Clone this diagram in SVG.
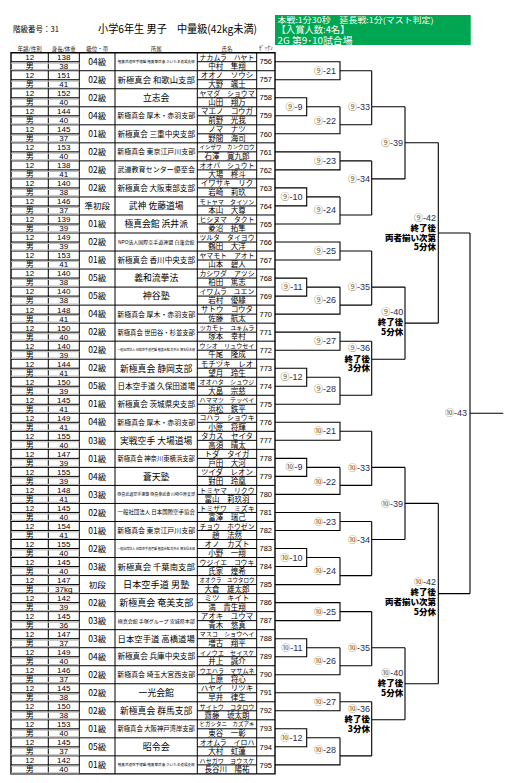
<svg xmlns="http://www.w3.org/2000/svg" width="516" height="783" viewBox="0 0 516 783">
<style>
text{font-family:"Liberation Sans","Noto Sans CJK JP",sans-serif;fill:#000}
.j{font-family:"Noto Sans CJK JP",sans-serif}
.a{font-size:8px;text-anchor:middle}
.g{font-size:8.5px;text-anchor:middle;font-family:"Noto Sans CJK JP",sans-serif}
.f{text-anchor:middle;font-family:"Noto Sans CJK JP",sans-serif}
.kn{font-size:7.5px;text-anchor:middle;font-family:"Noto Sans CJK JP",sans-serif}
.k7{font-size:6.9px}
.k8{font-size:6.1px}
.k9{font-size:5.5px}
.kj{font-size:7.5px;text-anchor:middle;font-family:"Noto Sans CJK JP",sans-serif}
.no{font-size:7.5px;text-anchor:middle}
.dv{stroke:#000;stroke-width:1;fill:none}
.gy{stroke:#bdbdbd;stroke-width:1.2;fill:none}
.grid{stroke:#000;stroke-width:1;fill:none}
.out{stroke:#000;stroke-width:1.4;fill:none}
.br{stroke:#000;stroke-width:1.1;fill:none}
.lb{font-size:9px;text-anchor:end;fill:#1f2d5a}
.lb tspan{fill:#7a5c1e}
.nt{font-size:8.5px;text-anchor:end;font-weight:900;font-family:"Noto Sans CJK JP",sans-serif}
.hd{font-size:5.5px;text-anchor:middle;font-family:"Noto Sans CJK JP",sans-serif;fill:#222}
.wt{fill:#fff;font-family:"Noto Sans CJK JP",sans-serif}
</style>

<g id="header">
<text class="j" x="13" y="32" font-size="7.5">階級番号：31</text>
<text class="j" x="98" y="33" font-size="11" textLength="159" lengthAdjust="spacingAndGlyphs">小学6年生 男子　中量級(42kg未満)</text>
<rect x="275" y="15" width="195.7" height="30" fill="#00a651"/>
<text class="wt" x="277.5" y="23.3" font-size="8" textLength="156" lengthAdjust="spacingAndGlyphs">本戦:1分30秒　延長戦:1分(マスト判定)</text>
<text class="wt" x="276.5" y="33.3" font-size="9.6" textLength="73" lengthAdjust="spacingAndGlyphs">【入賞人数:4名】</text>
<text class="wt" x="277.5" y="43.6" font-size="9.6" textLength="75" lengthAdjust="spacingAndGlyphs">2G 第9･10試合場</text>
<text class="hd" x="29.7" y="51">年齢/性別</text>
<text class="hd" x="63.8" y="51">身長/体重</text>
<text class="hd" x="97.2" y="51">級位・帯</text>
<text class="hd" x="156.2" y="51">所属</text>
<text class="hd" x="227" y="51">氏名</text>
<text class="hd" x="266" y="50" font-size="4">ｾﾞｯｹﾝ</text>
</g>

<g id="table-grid">
<path class="out" d="M11 52.7H275V773.9H11Z"/>
<path class="grid" d="M48.3 52.7V773.9M79.3 52.7V773.9M115 52.7V773.9M197.3 52.7V773.9M256.7 52.7V773.9"/>
<path class="grid" d="M11 70.73H275M11 88.76H275M11 106.79H275M11 124.82H275M11 142.85H275M11 160.88H275M11 178.91H275M11 196.94H275M11 214.97H275M11 233H275M11 251.03H275M11 269.06H275M11 287.09H275M11 305.12H275M11 323.15H275M11 341.18H275M11 359.21H275M11 377.24H275M11 395.27H275M11 413.3H275M11 431.33H275M11 449.36H275M11 467.39H275M11 485.42H275M11 503.45H275M11 521.48H275M11 539.51H275M11 557.54H275M11 575.57H275M11 593.6H275M11 611.63H275M11 629.66H275M11 647.69H275M11 665.72H275M11 683.75H275M11 701.78H275M11 719.81H275M11 737.84H275M11 755.87H275"/>
</g>

<g id="p756" transform="translate(0,52.7)"><path class="gy" d="M11 10.4H79.3M11 17H79.3"/><path class="dv" d="M11 9H79.3M197.3 9H256.7"/><text class="a" x="29.7" y="7.4">12</text><text class="a" x="63.8" y="7.4">138</text><text class="a" x="29.7" y="16.4">男</text><text class="a" x="63.8" y="16.4">38</text><text class="g" x="97.2" y="12.2">04級</text><text class="f" x="156.2" y="10.3" font-size="3.6">極真武道空手連盟 極真拳武會 さいたま道場支部</text><text class="kn k7" x="227" y="7.1">ナカムラ　ハヤト</text><text class="kj" x="227" y="16.3">中村　隼翔</text><text class="no" x="265.8" y="11.7">756</text></g>
<g id="p757" transform="translate(0,70.73)"><path class="gy" d="M11 10.4H79.3M11 17H79.3"/><path class="dv" d="M11 9H79.3M197.3 9H256.7"/><text class="a" x="29.7" y="7.4">12</text><text class="a" x="63.8" y="7.4">151</text><text class="a" x="29.7" y="16.4">男</text><text class="a" x="63.8" y="16.4">41</text><text class="g" x="97.2" y="12.2">02級</text><text class="f" x="156.2" y="12.1" font-size="8.4">新極真会 和歌山支部</text><text class="kn" x="227" y="7.3">オオノ　ソウシ</text><text class="kj" x="227" y="16.3">大野　颯士</text><text class="no" x="265.8" y="11.7">757</text></g>
<g id="p758" transform="translate(0,88.76)"><path class="gy" d="M11 10.4H79.3M11 17H79.3"/><path class="dv" d="M11 9H79.3M197.3 9H256.7"/><text class="a" x="29.7" y="7.4">12</text><text class="a" x="63.8" y="7.4">152</text><text class="a" x="29.7" y="16.4">男</text><text class="a" x="63.8" y="16.4">40</text><text class="g" x="97.2" y="12.2">02級</text><text class="f" x="156.2" y="12.3" font-size="8.8">立志会</text><text class="kn k7" x="227" y="7.1">ヤマダ　ショウマ</text><text class="kj" x="227" y="16.3">山田　翔万</text><text class="no" x="265.8" y="11.7">758</text></g>
<g id="p759" transform="translate(0,106.79)"><path class="gy" d="M11 10.4H79.3M11 17H79.3"/><path class="dv" d="M11 9H79.3M197.3 9H256.7"/><text class="a" x="29.7" y="7.4">12</text><text class="a" x="63.8" y="7.4">144</text><text class="a" x="29.7" y="16.4">男</text><text class="a" x="63.8" y="16.4">40</text><text class="g" x="97.2" y="12.2">04級</text><text class="f" x="156.2" y="11.6" font-size="6.95">新極真会 厚木・赤羽支部</text><text class="kn" x="227" y="7.3">マエノ　コウガ</text><text class="kj" x="227" y="16.3">前野　光我</text><text class="no" x="265.8" y="11.7">759</text></g>
<g id="p760" transform="translate(0,124.82)"><path class="gy" d="M11 10.4H79.3M11 17H79.3"/><path class="dv" d="M11 9H79.3M197.3 9H256.7"/><text class="a" x="29.7" y="7.4">12</text><text class="a" x="63.8" y="7.4">145</text><text class="a" x="29.7" y="16.4">男</text><text class="a" x="63.8" y="16.4">37</text><text class="g" x="97.2" y="12.2">01級</text><text class="f" x="156.2" y="11.8" font-size="7.6">新極真会 三重中央支部</text><text class="kn" x="227" y="7.3">ノマ　ナツ</text><text class="kj" x="227" y="16.3">野間　海司</text><text class="no" x="265.8" y="11.7">760</text></g>
<g id="p761" transform="translate(0,142.85)"><path class="gy" d="M11 10.4H79.3M11 17H79.3"/><path class="dv" d="M11 9H79.3M197.3 9H256.7"/><text class="a" x="29.7" y="7.4">12</text><text class="a" x="63.8" y="7.4">153</text><text class="a" x="29.7" y="16.4">男</text><text class="a" x="63.8" y="16.4">40</text><text class="g" x="97.2" y="12.2">02級</text><text class="f" x="156.2" y="11.6" font-size="6.95">新極真会 東京江戸川支部</text><text class="kn k9" x="227" y="6.5">イシザワ　カンクロウ</text><text class="kj" x="227" y="16.3">石澤　寛九郎</text><text class="no" x="265.8" y="11.7">761</text></g>
<g id="p762" transform="translate(0,160.88)"><path class="gy" d="M11 10.4H79.3M11 17H79.3"/><path class="dv" d="M11 9H79.3M197.3 9H256.7"/><text class="a" x="29.7" y="7.4">12</text><text class="a" x="63.8" y="7.4">138</text><text class="a" x="29.7" y="16.4">男</text><text class="a" x="63.8" y="16.4">41</text><text class="g" x="97.2" y="12.2">02級</text><text class="f" x="156.2" y="11.6" font-size="7.05">武道教育センター優至会</text><text class="kn k7" x="227" y="7.1">オオバ　シュウト</text><text class="kj" x="227" y="16.3">大場　柊斗</text><text class="no" x="265.8" y="11.7">762</text></g>
<g id="p763" transform="translate(0,178.91)"><path class="gy" d="M11 10.4H79.3M11 17H79.3"/><path class="dv" d="M11 9H79.3M197.3 9H256.7"/><text class="a" x="29.7" y="7.4">12</text><text class="a" x="63.8" y="7.4">140</text><text class="a" x="29.7" y="16.4">男</text><text class="a" x="63.8" y="16.4">38</text><text class="g" x="97.2" y="12.2">02級</text><text class="f" x="156.2" y="11.8" font-size="7.6">新極真会 大阪東部支部</text><text class="kn" x="227" y="7.3">イワサキ　リク</text><text class="kj" x="227" y="16.3">岩崎　莉玖</text><text class="no" x="265.8" y="11.7">763</text></g>
<g id="p764" transform="translate(0,196.94)"><path class="gy" d="M11 10.4H79.3M11 17H79.3"/><path class="dv" d="M11 9H79.3M197.3 9H256.7"/><text class="a" x="29.7" y="7.4">12</text><text class="a" x="63.8" y="7.4">146</text><text class="a" x="29.7" y="16.4">男</text><text class="a" x="63.8" y="16.4">37</text><text class="g" x="97.2" y="12.2">準初段</text><text class="f" x="156.2" y="12.3" font-size="8.8">武神 佐藤道場</text><text class="kn k8" x="227" y="6.8">モトヤマ　タイソン</text><text class="kj" x="227" y="16.3">本山　大尊</text><text class="no" x="265.8" y="11.7">764</text></g>
<g id="p765" transform="translate(0,214.97)"><path class="gy" d="M11 10.4H79.3M11 17H79.3"/><path class="dv" d="M11 9H79.3M197.3 9H256.7"/><text class="a" x="29.7" y="7.4">12</text><text class="a" x="63.8" y="7.4">139</text><text class="a" x="29.7" y="16.4">男</text><text class="a" x="63.8" y="16.4">39</text><text class="g" x="97.2" y="12.2">01級</text><text class="f" x="156.2" y="12.3" font-size="8.8">極真会館 浜井派</text><text class="kn k7" x="227" y="7.1">ヒシヌマ　タクト</text><text class="kj" x="227" y="16.3">菱沼　拓隼</text><text class="no" x="265.8" y="11.7">765</text></g>
<g id="p766" transform="translate(0,233)"><path class="gy" d="M11 10.4H79.3M11 17H79.3"/><path class="dv" d="M11 9H79.3M197.3 9H256.7"/><text class="a" x="29.7" y="7.4">12</text><text class="a" x="63.8" y="7.4">149</text><text class="a" x="29.7" y="16.4">男</text><text class="a" x="63.8" y="16.4">39</text><text class="g" x="97.2" y="12.2">02級</text><text class="f" x="156.2" y="10.9" font-size="5">NPO法人国際空手道連盟 白蓮会館</text><text class="kn k7" x="227" y="7.1">ツルタ　タイヨウ</text><text class="kj" x="227" y="16.3">鶴田　大洋</text><text class="no" x="265.8" y="11.7">766</text></g>
<g id="p767" transform="translate(0,251.03)"><path class="gy" d="M11 10.4H79.3M11 17H79.3"/><path class="dv" d="M11 9H79.3M197.3 9H256.7"/><text class="a" x="29.7" y="7.4">12</text><text class="a" x="63.8" y="7.4">153</text><text class="a" x="29.7" y="16.4">男</text><text class="a" x="63.8" y="16.4">41</text><text class="g" x="97.2" y="12.2">01級</text><text class="f" x="156.2" y="11.8" font-size="7.6">新極真会 香川中央支部</text><text class="kn k7" x="227" y="7.1">ヤマモト　アオト</text><text class="kj" x="227" y="16.3">山本　碧人</text><text class="no" x="265.8" y="11.7">767</text></g>
<g id="p768" transform="translate(0,269.06)"><path class="gy" d="M11 10.4H79.3M11 17H79.3"/><path class="dv" d="M11 9H79.3M197.3 9H256.7"/><text class="a" x="29.7" y="7.4">12</text><text class="a" x="63.8" y="7.4">140</text><text class="a" x="29.7" y="16.4">男</text><text class="a" x="63.8" y="16.4">38</text><text class="g" x="97.2" y="12.2">05級</text><text class="f" x="156.2" y="12.3" font-size="8.8">義和流拳法</text><text class="kn k7" x="227" y="7.1">カシワダ　アツシ</text><text class="kj" x="227" y="16.3">柏田　篤志</text><text class="no" x="265.8" y="11.7">768</text></g>
<g id="p769" transform="translate(0,287.09)"><path class="gy" d="M11 10.4H79.3M11 17H79.3"/><path class="dv" d="M11 9H79.3M197.3 9H256.7"/><text class="a" x="29.7" y="7.4">12</text><text class="a" x="63.8" y="7.4">140</text><text class="a" x="29.7" y="16.4">男</text><text class="a" x="63.8" y="16.4">38</text><text class="g" x="97.2" y="12.2">05級</text><text class="f" x="156.2" y="12.3" font-size="9">神谷塾</text><text class="kn k7" x="227" y="7.1">イワムラ　ユエン</text><text class="kj" x="227" y="16.3">岩村　優縁</text><text class="no" x="265.8" y="11.7">769</text></g>
<g id="p770" transform="translate(0,305.12)"><path class="gy" d="M11 10.4H79.3M11 17H79.3"/><path class="dv" d="M11 9H79.3M197.3 9H256.7"/><text class="a" x="29.7" y="7.4">12</text><text class="a" x="63.8" y="7.4">148</text><text class="a" x="29.7" y="16.4">男</text><text class="a" x="63.8" y="16.4">41</text><text class="g" x="97.2" y="12.2">04級</text><text class="f" x="156.2" y="11.6" font-size="6.95">新極真会 厚木・赤羽支部</text><text class="kn" x="227" y="7.3">サトウ　コウタ</text><text class="kj" x="227" y="16.3">佐藤　航太</text><text class="no" x="265.8" y="11.7">770</text></g>
<g id="p771" transform="translate(0,323.15)"><path class="gy" d="M11 10.4H79.3M11 17H79.3"/><path class="dv" d="M11 9H79.3M197.3 9H256.7"/><text class="a" x="29.7" y="7.4">12</text><text class="a" x="63.8" y="7.4">150</text><text class="a" x="29.7" y="16.4">男</text><text class="a" x="63.8" y="16.4">40</text><text class="g" x="97.2" y="12.2">02級</text><text class="f" x="156.2" y="11.4" font-size="6.35">新極真会 世田谷・杉並支部</text><text class="kn k8" x="227" y="6.8">ツカモト　ユキムラ</text><text class="kj" x="227" y="16.3">塚本　幸村</text><text class="no" x="265.8" y="11.7">771</text></g>
<g id="p772" transform="translate(0,341.18)"><path class="gy" d="M11 10.4H79.3M11 17H79.3"/><path class="dv" d="M11 9H79.3M197.3 9H256.7"/><text class="a" x="29.7" y="7.4">12</text><text class="a" x="63.8" y="7.4">140</text><text class="a" x="29.7" y="16.4">男</text><text class="a" x="63.8" y="16.4">39</text><text class="g" x="97.2" y="12.2">02級</text><text class="f" x="156.2" y="10.1" font-size="3">一般社団法人 国際空手道連盟 極真会館 浜井派 埼玉県本部</text><text class="kn k8" x="227" y="6.8">ウシオ　リュウセイ</text><text class="kj" x="227" y="16.3">牛尾　隆成</text><text class="no" x="265.8" y="11.7">772</text></g>
<g id="p773" transform="translate(0,359.21)"><path class="gy" d="M11 10.4H79.3M11 17H79.3"/><path class="dv" d="M11 9H79.3M197.3 9H256.7"/><text class="a" x="29.7" y="7.4">12</text><text class="a" x="63.8" y="7.4">144</text><text class="a" x="29.7" y="16.4">男</text><text class="a" x="63.8" y="16.4">41</text><text class="g" x="97.2" y="12.2">02級</text><text class="f" x="156.2" y="12.3" font-size="8.8">新極真会 静岡支部</text><text class="kn" x="227" y="7.3">モチヅキ　レオ</text><text class="kj" x="227" y="16.3">望月　玲生</text><text class="no" x="265.8" y="11.7">773</text></g>
<g id="p774" transform="translate(0,377.24)"><path class="gy" d="M11 10.4H79.3M11 17H79.3"/><path class="dv" d="M11 9H79.3M197.3 9H256.7"/><text class="a" x="29.7" y="7.4">12</text><text class="a" x="63.8" y="7.4">150</text><text class="a" x="29.7" y="16.4">男</text><text class="a" x="63.8" y="16.4">39</text><text class="g" x="97.2" y="12.2">05級</text><text class="f" x="156.2" y="11.8" font-size="7.6">日本空手道 久保田道場</text><text class="kn k8" x="227" y="6.8">オオハタ　シュウジ</text><text class="kj" x="227" y="16.3">大畠　宗慈</text><text class="no" x="265.8" y="11.7">774</text></g>
<g id="p775" transform="translate(0,395.27)"><path class="gy" d="M11 10.4H79.3M11 17H79.3"/><path class="dv" d="M11 9H79.3M197.3 9H256.7"/><text class="a" x="29.7" y="7.4">12</text><text class="a" x="63.8" y="7.4">145</text><text class="a" x="29.7" y="16.4">男</text><text class="a" x="63.8" y="16.4">41</text><text class="g" x="97.2" y="12.2">01級</text><text class="f" x="156.2" y="11.8" font-size="7.6">新極真会 茨城県央支部</text><text class="kn k8" x="227" y="6.8">ハママツ　テッペイ</text><text class="kj" x="227" y="16.3">浜松　鉄平</text><text class="no" x="265.8" y="11.7">775</text></g>
<g id="p776" transform="translate(0,413.3)"><path class="gy" d="M11 10.4H79.3M11 17H79.3"/><path class="dv" d="M11 9H79.3M197.3 9H256.7"/><text class="a" x="29.7" y="7.4">12</text><text class="a" x="63.8" y="7.4">149</text><text class="a" x="29.7" y="16.4">男</text><text class="a" x="63.8" y="16.4">41</text><text class="g" x="97.2" y="12.2">04級</text><text class="f" x="156.2" y="11.6" font-size="6.95">新極真会 厚木・赤羽支部</text><text class="kn k7" x="227" y="7.1">コハラ　ショウキ</text><text class="kj" x="227" y="16.3">小原　将輝</text><text class="no" x="265.8" y="11.7">776</text></g>
<g id="p777" transform="translate(0,431.33)"><path class="gy" d="M11 10.4H79.3M11 17H79.3"/><path class="dv" d="M11 9H79.3M197.3 9H256.7"/><text class="a" x="29.7" y="7.4">12</text><text class="a" x="63.8" y="7.4">155</text><text class="a" x="29.7" y="16.4">男</text><text class="a" x="63.8" y="16.4">40</text><text class="g" x="97.2" y="12.2">03級</text><text class="f" x="156.2" y="12.3" font-size="8.8">実戦空手 大場道場</text><text class="kn" x="227" y="7.3">タカス　セイタ</text><text class="kj" x="227" y="16.3">高須　晴太</text><text class="no" x="265.8" y="11.7">777</text></g>
<g id="p778" transform="translate(0,449.36)"><path class="gy" d="M11 10.4H79.3M11 17H79.3"/><path class="dv" d="M11 9H79.3M197.3 9H256.7"/><text class="a" x="29.7" y="7.4">12</text><text class="a" x="63.8" y="7.4">147</text><text class="a" x="29.7" y="16.4">男</text><text class="a" x="63.8" y="16.4">39</text><text class="g" x="97.2" y="12.2">01級</text><text class="f" x="156.2" y="11.4" font-size="6.35">新極真会 神奈川東横浜支部</text><text class="kn" x="227" y="7.3">トダ　タイガ</text><text class="kj" x="227" y="16.3">戸田　大河</text><text class="no" x="265.8" y="11.7">778</text></g>
<g id="p779" transform="translate(0,467.39)"><path class="gy" d="M11 10.4H79.3M11 17H79.3"/><path class="dv" d="M11 9H79.3M197.3 9H256.7"/><text class="a" x="29.7" y="7.4">12</text><text class="a" x="63.8" y="7.4">155</text><text class="a" x="29.7" y="16.4">男</text><text class="a" x="63.8" y="16.4">39</text><text class="g" x="97.2" y="12.2">04級</text><text class="f" x="156.2" y="12.3" font-size="8.8">蒼天塾</text><text class="kn" x="227" y="7.3">ツイダ　レオン</text><text class="kj" x="227" y="16.3">對田　玲凰</text><text class="no" x="265.8" y="11.7">779</text></g>
<g id="p780" transform="translate(0,485.42)"><path class="gy" d="M11 10.4H79.3M11 17H79.3"/><path class="dv" d="M11 9H79.3M197.3 9H256.7"/><text class="a" x="29.7" y="7.4">12</text><text class="a" x="63.8" y="7.4">148</text><text class="a" x="29.7" y="16.4">男</text><text class="a" x="63.8" y="16.4">41</text><text class="g" x="97.2" y="12.2">03級</text><text class="f" x="156.2" y="10.5" font-size="4">極真武道空手連盟 極真拳武會 川崎中原支部</text><text class="kn k7" x="227" y="7.1">トミヤマ　リクウ</text><text class="kj" x="227" y="16.3">冨山　莉玖羽</text><text class="no" x="265.8" y="11.7">780</text></g>
<g id="p781" transform="translate(0,503.45)"><path class="gy" d="M11 10.4H79.3M11 17H79.3"/><path class="dv" d="M11 9H79.3M197.3 9H256.7"/><text class="a" x="29.7" y="7.4">12</text><text class="a" x="63.8" y="7.4">145</text><text class="a" x="29.7" y="16.4">男</text><text class="a" x="63.8" y="16.4">40</text><text class="g" x="97.2" y="12.2">02級</text><text class="f" x="156.2" y="11" font-size="5.45">一般社団法人 日本国際空手協会</text><text class="kn k7" x="227" y="7.1">トミザワ　ミズキ</text><text class="kj" x="227" y="16.3">富澤　瑞己</text><text class="no" x="265.8" y="11.7">781</text></g>
<g id="p782" transform="translate(0,521.48)"><path class="gy" d="M11 10.4H79.3M11 17H79.3"/><path class="dv" d="M11 9H79.3M197.3 9H256.7"/><text class="a" x="29.7" y="7.4">12</text><text class="a" x="63.8" y="7.4">154</text><text class="a" x="29.7" y="16.4">男</text><text class="a" x="63.8" y="16.4">41</text><text class="g" x="97.2" y="12.2">01級</text><text class="f" x="156.2" y="11.6" font-size="6.95">新極真会 東京江戸川支部</text><text class="kn k7" x="227" y="7.1">チョウ　ホウゼン</text><text class="kj" x="227" y="16.3">趙　法然</text><text class="no" x="265.8" y="11.7">782</text></g>
<g id="p783" transform="translate(0,539.51)"><path class="gy" d="M11 10.4H79.3M11 17H79.3"/><path class="dv" d="M11 9H79.3M197.3 9H256.7"/><text class="a" x="29.7" y="7.4">12</text><text class="a" x="63.8" y="7.4">155</text><text class="a" x="29.7" y="16.4">男</text><text class="a" x="63.8" y="16.4">40</text><text class="g" x="97.2" y="12.2">02級</text><text class="f" x="156.2" y="10.1" font-size="3">一般社団法人 国際空手道連盟 極真会館 浜井派 埼玉県本部</text><text class="kn" x="227" y="7.3">オノ　カズト</text><text class="kj" x="227" y="16.3">小野　一翔</text><text class="no" x="265.8" y="11.7">783</text></g>
<g id="p784" transform="translate(0,557.54)"><path class="gy" d="M11 10.4H79.3M11 17H79.3"/><path class="dv" d="M11 9H79.3M197.3 9H256.7"/><text class="a" x="29.7" y="7.4">12</text><text class="a" x="63.8" y="7.4">145</text><text class="a" x="29.7" y="16.4">男</text><text class="a" x="63.8" y="16.4">40</text><text class="g" x="97.2" y="12.2">03級</text><text class="f" x="156.2" y="12.1" font-size="8.4">新極真会 千葉南支部</text><text class="kn k7" x="227" y="7.1">ウジイエ　コウキ</text><text class="kj" x="227" y="16.3">氏家　煌希</text><text class="no" x="265.8" y="11.7">784</text></g>
<g id="p785" transform="translate(0,575.57)"><path class="gy" d="M11 10.4H79.3M11 17H79.3"/><path class="dv" d="M11 9H79.3M197.3 9H256.7"/><text class="a" x="29.7" y="7.4">12</text><text class="a" x="63.8" y="7.4">147</text><text class="a" x="29.7" y="16.4">男</text><text class="a" x="63.8" y="16.4" font-size="7">37kg</text><text class="g" x="97.2" y="12.2">初段</text><text class="f" x="156.2" y="12.4" font-size="9.2">日本空手道 男塾</text><text class="kn k9" x="227" y="6.5">オオクラ　ユウタロウ</text><text class="kj" x="227" y="16.3">大倉　雄太郎</text><text class="no" x="265.8" y="11.7">785</text></g>
<g id="p786" transform="translate(0,593.6)"><path class="gy" d="M11 10.4H79.3M11 17H79.3"/><path class="dv" d="M11 9H79.3M197.3 9H256.7"/><text class="a" x="29.7" y="7.4">12</text><text class="a" x="63.8" y="7.4">142</text><text class="a" x="29.7" y="16.4">男</text><text class="a" x="63.8" y="16.4">39</text><text class="g" x="97.2" y="12.2">02級</text><text class="f" x="156.2" y="12.3" font-size="9">新極真会 奄美支部</text><text class="kn" x="227" y="7.3">ミツ　キイト</text><text class="kj" x="227" y="16.3">満　貴生翔</text><text class="no" x="265.8" y="11.7">786</text></g>
<g id="p787" transform="translate(0,611.63)"><path class="gy" d="M11 10.4H79.3M11 17H79.3"/><path class="dv" d="M11 9H79.3M197.3 9H256.7"/><text class="a" x="29.7" y="7.4">12</text><text class="a" x="63.8" y="7.4">145</text><text class="a" x="29.7" y="16.4">男</text><text class="a" x="63.8" y="16.4">36</text><text class="g" x="97.2" y="12.2">03級</text><text class="f" x="156.2" y="10.9" font-size="5">極真会館 手塚グループ 宮城県本部</text><text class="kn" x="227" y="7.3">アオキ　ユウマ</text><text class="kj" x="227" y="16.3">青木　悠真</text><text class="no" x="265.8" y="11.7">787</text></g>
<g id="p788" transform="translate(0,629.66)"><path class="gy" d="M11 10.4H79.3M11 17H79.3"/><path class="dv" d="M11 9H79.3M197.3 9H256.7"/><text class="a" x="29.7" y="7.4">12</text><text class="a" x="63.8" y="7.4">147</text><text class="a" x="29.7" y="16.4">男</text><text class="a" x="63.8" y="16.4">37</text><text class="g" x="97.2" y="12.2">03級</text><text class="f" x="156.2" y="12.1" font-size="8.4">日本空手道 高橋道場</text><text class="kn k8" x="227" y="6.8">マスコ　ショウヘイ</text><text class="kj" x="227" y="16.3">増古　翔平</text><text class="no" x="265.8" y="11.7">788</text></g>
<g id="p789" transform="translate(0,647.69)"><path class="gy" d="M11 10.4H79.3M11 17H79.3"/><path class="dv" d="M11 9H79.3M197.3 9H256.7"/><text class="a" x="29.7" y="7.4">12</text><text class="a" x="63.8" y="7.4">149</text><text class="a" x="29.7" y="16.4">男</text><text class="a" x="63.8" y="16.4">40</text><text class="g" x="97.2" y="12.2">04級</text><text class="f" x="156.2" y="11.8" font-size="7.6">新極真会 兵庫中央支部</text><text class="kn k8" x="227" y="6.8">イノウエ　セイスケ</text><text class="kj" x="227" y="16.3">井上　誠介</text><text class="no" x="265.8" y="11.7">789</text></g>
<g id="p790" transform="translate(0,665.72)"><path class="gy" d="M11 10.4H79.3M11 17H79.3"/><path class="dv" d="M11 9H79.3M197.3 9H256.7"/><text class="a" x="29.7" y="7.4">12</text><text class="a" x="63.8" y="7.4">146</text><text class="a" x="29.7" y="16.4">男</text><text class="a" x="63.8" y="16.4">37</text><text class="g" x="97.2" y="12.2">02級</text><text class="f" x="156.2" y="11.6" font-size="6.95">新極真会 埼玉大宮西支部</text><text class="kn k8" x="227" y="6.8">ウエハラ　マサムネ</text><text class="kj" x="227" y="16.3">上原　将心</text><text class="no" x="265.8" y="11.7">790</text></g>
<g id="p791" transform="translate(0,683.75)"><path class="gy" d="M11 10.4H79.3M11 17H79.3"/><path class="dv" d="M11 9H79.3M197.3 9H256.7"/><text class="a" x="29.7" y="7.4">12</text><text class="a" x="63.8" y="7.4">145</text><text class="a" x="29.7" y="16.4">男</text><text class="a" x="63.8" y="16.4">38</text><text class="g" x="97.2" y="12.2">02級</text><text class="f" x="156.2" y="12.3" font-size="8.8">一光会館</text><text class="kn" x="227" y="7.3">ハヤイ　リツキ</text><text class="kj" x="227" y="16.3">早井　律生</text><text class="no" x="265.8" y="11.7">791</text></g>
<g id="p792" transform="translate(0,701.78)"><path class="gy" d="M11 10.4H79.3M11 17H79.3"/><path class="dv" d="M11 9H79.3M197.3 9H256.7"/><text class="a" x="29.7" y="7.4">12</text><text class="a" x="63.8" y="7.4">150</text><text class="a" x="29.7" y="16.4">男</text><text class="a" x="63.8" y="16.4">38</text><text class="g" x="97.2" y="12.2">02級</text><text class="f" x="156.2" y="12.3" font-size="8.8">新極真会 群馬支部</text><text class="kn k8" x="227" y="6.8">サイトウ　コタロウ</text><text class="kj" x="227" y="16.3">齋藤　琥太朗</text><text class="no" x="265.8" y="11.7">792</text></g>
<g id="p793" transform="translate(0,719.81)"><path class="gy" d="M11 10.4H79.3M11 17H79.3"/><path class="dv" d="M11 9H79.3M197.3 9H256.7"/><text class="a" x="29.7" y="7.4">12</text><text class="a" x="63.8" y="7.4">153</text><text class="a" x="29.7" y="16.4">男</text><text class="a" x="63.8" y="16.4">40</text><text class="g" x="97.2" y="12.2">01級</text><text class="f" x="156.2" y="11.4" font-size="6.35">新極真会 大阪神戸湾岸支部</text><text class="kn k9" x="227" y="6.5">ヒガシタニ　カズアキ</text><text class="kj" x="227" y="16.3">東谷　一彰</text><text class="no" x="265.8" y="11.7">793</text></g>
<g id="p794" transform="translate(0,737.84)"><path class="gy" d="M11 10.4H79.3M11 17H79.3"/><path class="dv" d="M11 9H79.3M197.3 9H256.7"/><text class="a" x="29.7" y="7.4">12</text><text class="a" x="63.8" y="7.4">145</text><text class="a" x="29.7" y="16.4">男</text><text class="a" x="63.8" y="16.4">37</text><text class="g" x="97.2" y="12.2">05級</text><text class="f" x="156.2" y="12.3" font-size="9">昭令会</text><text class="kn k7" x="227" y="7.1">オオムラ　イロハ</text><text class="kj" x="227" y="16.3">大村　虹蓮</text><text class="no" x="265.8" y="11.7">794</text></g>
<g id="p795" transform="translate(0,755.87)"><path class="gy" d="M11 10.4H79.3M11 17H79.3"/><path class="dv" d="M11 9H79.3M197.3 9H256.7"/><text class="a" x="29.7" y="7.4">12</text><text class="a" x="63.8" y="7.4">142</text><text class="a" x="29.7" y="16.4">男</text><text class="a" x="63.8" y="16.4">40</text><text class="g" x="97.2" y="12.2">01級</text><text class="f" x="156.2" y="10.3" font-size="3.6">極真武道空手連盟 極真拳武會 さいたま道場支部</text><text class="kn k8" x="227" y="6.8">ハセガワ　ヨウスケ</text><text class="kj" x="227" y="16.3">長谷川　陽祐</text><text class="no" x="265.8" y="11.7">795</text></g>

<g id="connectors" class="br">
<path d="M275 61.7H340V79.7H275M340 70.7H371.7"/>
<path d="M275 97.8H306.7V115.8H275M306.7 106.8H340"/>
<path d="M275 133.8H340V106.8M340 124.8H371.7"/>
<path d="M371.7 70.7V124.8M371.7 106.8H405"/>
<path d="M275 151.9H340V169.9H275M340 160.9H371.7"/>
<path d="M275 187.9H306.7V205.9H275M306.7 196.9H340"/>
<path d="M275 224H340V196.9M340 215H371.7"/>
<path d="M371.7 160.9V215M371.7 178.9H405"/>
<path d="M405 106.8V178.9M405 142.8H438.3"/>
<path d="M275 242H340V260H275M340 251H371.7"/>
<path d="M275 278.1H306.7V296.1H275M306.7 287.1H340"/>
<path d="M275 314.1H340V287.1M340 305.1H371.7"/>
<path d="M371.7 251V305.1M371.7 287.1H405"/>
<path d="M275 332.1H340V350.2H275M340 341.2H371.7"/>
<path d="M275 368.2H306.7V386.2H275M306.7 377.2H340"/>
<path d="M275 404.3H340V377.2M340 395.3H371.7"/>
<path d="M371.7 341.2V395.3M371.7 359.2H405"/>
<path d="M405 287.1V359.2M405 323.1H438.3"/>
<path d="M438.3 142.8V323.1M438.3 233H470"/>
<path d="M275 422.3H340V440.3H275M340 431.3H371.7"/>
<path d="M275 458.4H306.7V476.4H275M306.7 467.4H340"/>
<path d="M275 494.4H340V467.4M340 485.4H371.7"/>
<path d="M371.7 431.3V485.4M371.7 467.4H405"/>
<path d="M275 512.5H340V530.5H275M340 521.5H371.7"/>
<path d="M275 548.5H306.7V566.5H275M306.7 557.5H340"/>
<path d="M275 584.6H340V557.5M340 575.6H371.7"/>
<path d="M371.7 521.5V575.6M371.7 539.5H405"/>
<path d="M405 467.4V539.5M405 503.4H438.3"/>
<path d="M275 602.6H340V620.6H275M340 611.6H371.7"/>
<path d="M275 638.7H306.7V656.7H275M306.7 647.7H340"/>
<path d="M275 674.7H340V647.7M340 665.7H371.7"/>
<path d="M371.7 611.6V665.7M371.7 647.7H405"/>
<path d="M275 692.7H340V710.8H275M340 701.8H371.7"/>
<path d="M275 728.8H306.7V746.8H275M306.7 737.8H340"/>
<path d="M275 764.9H340V737.8M340 755.9H371.7"/>
<path d="M371.7 701.8V755.9M371.7 719.8H405"/>
<path d="M405 647.7V719.8M405 683.7H438.3"/>
<path d="M438.3 503.4V683.7M438.3 593.6H470"/>
<path d="M470 233V593.6M470 413.3H503.3"/>
</g>

<g id="labels">
<text class="lb" x="336" y="73.9"><tspan>⑨</tspan>-21</text>
<text class="lb" x="302.5" y="110"><tspan>⑨</tspan>-9</text>
<text class="lb" x="336" y="124"><tspan>⑨</tspan>-22</text>
<text class="lb" x="370" y="110"><tspan>⑨</tspan>-33</text>
<text class="lb" x="336" y="164"><tspan>⑨</tspan>-23</text>
<text class="lb" x="302.5" y="200"><tspan>⑨</tspan>-10</text>
<text class="lb" x="336" y="213"><tspan>⑨</tspan>-24</text>
<text class="lb" x="370" y="182"><tspan>⑨</tspan>-34</text>
<text class="lb" x="403" y="146"><tspan>⑨</tspan>-39</text>
<text class="lb" x="336" y="254"><tspan>⑨</tspan>-25</text>
<text class="lb" x="302.5" y="290"><tspan>⑨</tspan>-11</text>
<text class="lb" x="336" y="303"><tspan>⑨</tspan>-26</text>
<text class="lb" x="370" y="290"><tspan>⑨</tspan>-35</text>
<text class="lb" x="336" y="344"><tspan>⑨</tspan>-27</text>
<text class="lb" x="302.5" y="380"><tspan>⑨</tspan>-12</text>
<text class="lb" x="336" y="392"><tspan>⑨</tspan>-28</text>
<text class="lb" x="370" y="351"><tspan>⑨</tspan>-36</text>
<text class="nt" x="370" y="361.5">終了後</text>
<text class="nt" x="370" y="371">3分休</text>
<text class="lb" x="403.3" y="315"><tspan>⑨</tspan>-40</text>
<text class="nt" x="403.3" y="325.2">終了後</text>
<text class="nt" x="403.3" y="335">5分休</text>
<text class="lb" x="436" y="221"><tspan>⑨</tspan>-42</text>
<text class="nt" x="436" y="231">終了後</text>
<text class="nt" x="436" y="240.5">両者揃い次第</text>
<text class="nt" x="436" y="250">5分休</text>
<text class="lb" x="467" y="416.3"><tspan>⑩</tspan>-43</text>
<text class="lb" x="336" y="434.3"><tspan>⑩</tspan>-21</text>
<text class="lb" x="302.5" y="470.4"><tspan>⑩</tspan>-9</text>
<text class="lb" x="336" y="484.6"><tspan>⑩</tspan>-22</text>
<text class="lb" x="370" y="470.6"><tspan>⑩</tspan>-33</text>
<text class="lb" x="336" y="524.6"><tspan>⑩</tspan>-23</text>
<text class="lb" x="302.5" y="560.6"><tspan>⑩</tspan>-10</text>
<text class="lb" x="336" y="573.6"><tspan>⑩</tspan>-24</text>
<text class="lb" x="370" y="542.6"><tspan>⑩</tspan>-34</text>
<text class="lb" x="403" y="506.6"><tspan>⑩</tspan>-39</text>
<text class="lb" x="336" y="614.6"><tspan>⑩</tspan>-25</text>
<text class="lb" x="302.5" y="650.6"><tspan>⑩</tspan>-11</text>
<text class="lb" x="336" y="663.6"><tspan>⑩</tspan>-26</text>
<text class="lb" x="370" y="650.6"><tspan>⑩</tspan>-35</text>
<text class="lb" x="336" y="704.6"><tspan>⑩</tspan>-27</text>
<text class="lb" x="302.5" y="740.6"><tspan>⑩</tspan>-12</text>
<text class="lb" x="336" y="752.6"><tspan>⑩</tspan>-28</text>
<text class="lb" x="370" y="711.6"><tspan>⑩</tspan>-36</text>
<text class="nt" x="370" y="722.1">終了後</text>
<text class="nt" x="370" y="731.6">3分休</text>
<text class="lb" x="403.3" y="675.6"><tspan>⑩</tspan>-40</text>
<text class="nt" x="403.3" y="685.8">終了後</text>
<text class="nt" x="403.3" y="695.6">5分休</text>
<text class="lb" x="436" y="585"><tspan>⑩</tspan>-42</text>
<text class="nt" x="436" y="595">終了後</text>
<text class="nt" x="436" y="605">両者揃い次第</text>
<text class="nt" x="436" y="615">5分休</text>
</g>
</svg>
